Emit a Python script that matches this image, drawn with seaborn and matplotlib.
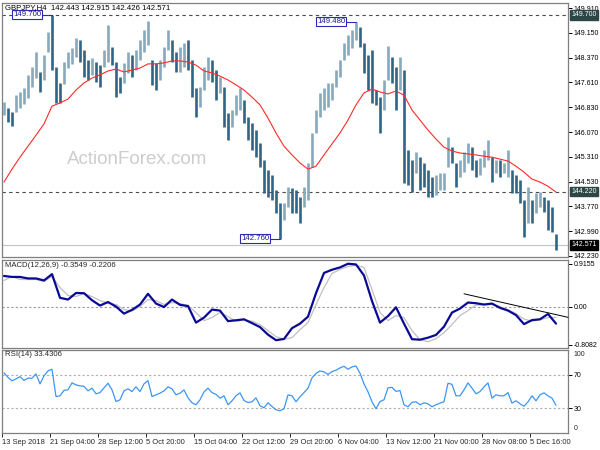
import numpy as np
import matplotlib
matplotlib.use("Agg")
import matplotlib.pyplot as plt
import seaborn as sns

sns.set_style("white")
plt.rcParams['font.family'] = ['Liberation Sans', 'DejaVu Sans']

# ---------------- data ----------------
symbol_text = "GBPJPY,H4  142.443 142.915 142.426 142.571"

bar_high = [147.00, 146.81, 146.69, 147.22, 147.31, 147.43, 147.84, 148.08, 148.55, 147.93,
            148.46, 149.17, 149.70, 148.08, 147.59, 148.24, 148.55, 148.67, 148.98, 148.92,
            148.61, 148.30, 148.36, 148.24, 148.15, 148.61, 149.39, 148.70, 148.24, 147.77,
            148.21, 148.55, 148.46, 148.61, 148.92, 149.23, 149.51, 148.30, 148.21, 148.30,
            148.70, 149.23, 148.92, 148.55, 148.70, 148.83, 148.92, 148.30, 147.43, 147.46,
            148.08, 148.39, 148.30, 147.99, 147.77, 147.46, 146.66, 146.75, 147.22, 147.43,
            147.06, 146.53, 146.35, 146.13, 145.73, 145.20, 144.89, 144.74, 144.27, 143.87,
            143.87, 144.36, 144.33, 144.27, 144.05, 144.36, 145.11, 146.04, 146.75, 147.28,
            147.43, 147.59, 147.59, 147.99, 148.30, 148.83, 149.08, 149.23, 149.48, 149.32,
            148.83, 148.46, 148.61, 147.37, 147.15, 147.68, 148.73, 148.39, 148.08, 148.39,
            147.99, 145.51, 145.20, 145.45, 145.29, 145.11, 144.89, 144.67, 144.74, 144.80,
            144.80, 145.91, 145.60, 145.11, 145.20, 145.45, 145.73, 145.60, 145.20, 145.26,
            145.51, 145.82, 145.29, 145.20, 145.20, 145.11, 145.51, 144.89, 144.74, 144.58,
            143.96, 144.36, 143.96, 144.18, 144.21, 144.05, 143.96, 143.74, 142.915]
bar_low = [146.60, 146.38, 146.25, 146.69, 146.81, 146.94, 147.12, 147.46, 147.74, 147.31,
           147.68, 148.55, 147.99, 146.97, 146.97, 147.56, 148.05, 148.18, 148.39, 148.24,
           147.77, 147.68, 147.84, 147.62, 147.46, 148.08, 148.24, 148.15, 147.15, 147.28,
           147.59, 147.90, 147.77, 147.99, 148.30, 148.55, 148.77, 147.53, 147.37, 147.68,
           148.08, 148.61, 148.24, 147.93, 147.93, 148.08, 147.99, 147.15, 146.53, 146.84,
           147.37, 147.68, 147.62, 147.06, 147.28, 146.22, 145.82, 146.22, 146.60, 146.75,
           146.35, 145.82, 145.51, 145.29, 144.98, 144.18, 144.05, 143.96, 143.56, 142.76,
           143.34, 143.74, 143.56, 143.56, 143.25, 143.74, 143.96, 144.98, 146.04, 146.53,
           146.75, 146.84, 147.06, 147.46, 147.77, 148.30, 148.46, 148.67, 148.92, 148.70,
           147.90, 147.37, 146.97, 146.91, 146.04, 146.75, 147.68, 147.59, 146.75, 147.37,
           144.49, 144.43, 144.21, 144.80, 144.27, 144.36, 144.05, 144.05, 144.12, 144.27,
           144.27, 144.98, 145.11, 144.36, 144.67, 144.83, 145.11, 144.89, 144.67, 144.74,
           144.98, 145.20, 144.52, 144.80, 144.67, 144.80, 144.67, 144.18, 144.18, 143.87,
           142.81, 143.25, 143.25, 143.56, 143.74, 143.59, 143.03, 142.97, 142.426]

# moving average, one reading every second bar
ma_val = [144.52, 144.92, 145.29, 145.63, 145.97, 146.32, 146.87, 146.97, 147.09, 147.37,
          147.59, 147.74, 147.84, 147.96, 148.02, 147.93, 147.99, 148.05, 148.18, 148.18,
          148.21, 148.27, 148.27, 148.24, 148.14, 147.96, 147.90, 147.80, 147.68, 147.53,
          147.37, 147.15, 146.91, 146.50, 146.04, 145.63, 145.36, 145.11, 144.92, 145.01,
          145.36, 145.70, 146.04, 146.44, 146.91, 147.28, 147.40, 147.31, 147.25, 147.34,
          147.21, 146.75, 146.44, 146.13, 145.85, 145.60, 145.48, 145.42, 145.39, 145.36,
          145.32, 145.29, 145.23, 145.17, 145.01, 144.83, 144.61, 144.52, 144.39, 144.21]

# MACD main and signal, one reading every second bar
macd_val = [0.656, 0.635, 0.635, 0.603, 0.603, 0.560, 0.694, 0.192, 0.155, 0.294,
            0.290, 0.141, 0.028, 0.102, 0.006, -0.143, -0.064, 0.049, 0.277, 0.070,
            -0.004, 0.155, 0.043, 0.017, -0.334, -0.228, -0.058, -0.079, -0.302, -0.285,
            -0.264, -0.345, -0.430, -0.590, -0.707, -0.682, -0.452, -0.356, -0.207, 0.290,
            0.720, 0.788, 0.837, 0.915, 0.900, 0.667, 0.124, -0.334, -0.196, -0.009,
            -0.356, -0.686, -0.697, -0.654, -0.596, -0.420, -0.121, -0.036, 0.092, 0.077,
            0.049, 0.070, -0.021, -0.079, -0.175, -0.366, -0.281, -0.264, -0.151, -0.3549]
signal_val = [0.560, 0.645, 0.581, 0.581, 0.581, 0.539, 0.645, 0.411, 0.241, 0.219,
              0.283, 0.219, 0.134, 0.081, 0.049, -0.058, -0.089, 0.006, 0.155, 0.134,
              0.049, 0.092, 0.070, 0.028, -0.121, -0.292, -0.228, -0.121, -0.207, -0.302,
              -0.281, -0.302, -0.377, -0.505, -0.633, -0.686, -0.654, -0.484, -0.334, 0.049,
              0.411, 0.709, 0.794, 0.858, 0.880, 0.837, 0.368, -0.121, -0.292, -0.185,
              -0.228, -0.505, -0.697, -0.739, -0.675, -0.547, -0.377, -0.185, -0.079, 0.038,
              0.049, 0.049, 0.006, -0.058, -0.143, -0.260, -0.302, -0.271, -0.228, -0.2206]
macd_trend_idx = [115, 141]
macd_trend_val = [0.277, -0.222]

rsi_val = [72.4, 67.0, 62.8, 65.2, 67.9, 63.4, 66.0, 66.0, 71.2, 59.2,
           68.8, 74.8, 76.8, 43.9, 44.8, 51.4, 52.0, 60.4, 58.0, 56.8,
           56.2, 50.8, 54.0, 47.2, 48.7, 54.4, 60.0, 52.0, 37.9, 40.0,
           50.8, 53.2, 49.9, 55.6, 49.9, 59.2, 63.1, 43.9, 46.0, 48.0,
           50.8, 55.6, 53.2, 46.0, 48.0, 52.0, 42.4, 36.4, 34.0, 40.0,
           49.6, 54.0, 48.7, 46.6, 42.0, 44.8, 34.0, 38.8, 44.8, 48.4,
           39.1, 36.7, 37.6, 42.4, 32.8, 30.4, 36.4, 31.9, 28.0, 26.8,
           29.2, 46.0, 44.8, 37.6, 43.6, 48.7, 54.0, 66.4, 71.8, 74.8,
           73.6, 70.6, 74.0, 75.6, 78.4, 80.4, 76.8, 79.6, 80.8, 72.0,
           59.2, 49.6, 37.6, 29.2, 37.9, 40.0, 54.4, 55.0, 50.2, 51.1,
           34.0, 31.6, 37.0, 37.6, 34.0, 36.4, 35.2, 31.6, 34.0, 36.0,
           37.6, 60.0, 58.6, 44.8, 44.8, 52.0, 60.4, 54.0, 47.2, 49.9,
           55.6, 60.4, 42.0, 46.0, 44.8, 44.8, 48.7, 36.0, 38.8, 35.2,
           32.2, 37.6, 44.8, 38.8, 46.0, 48.4, 44.8, 42.0, 33.4306]

price_ticks = [149.910, 149.150, 148.370, 147.610, 146.830, 146.070,
               145.310, 144.530, 143.770, 142.990, 142.230]
level_high = 149.700
level_mid = 144.220
last_close = 142.571
peak_labels = [("149.700", 149.700, 12), ("149.480", 149.480, 88), ("142.760", 142.760, 69)]
macd_ticks = [0.9155, 0.0, -0.8082]
macd_tick_labels = ["0.9155", "0.00", "-0.8082"]
x_tick_labels = ["13 Sep 2018", "21 Sep 04:00", "28 Sep 12:00", "5 Oct 20:00",
                 "15 Oct 04:00", "22 Oct 12:00", "29 Oct 20:00", "6 Nov 04:00",
                 "13 Nov 12:00", "21 Nov 00:00", "28 Nov 08:00", "5 Dec 16:00"]

# ---------------- figure ----------------
FS = 5.0
FS_T = 5.6
fig = plt.figure(figsize=(6, 4.5), dpi=100)
L, W = 2 / 600, 566 / 600
ax1 = fig.add_axes([L, 1 - 257 / 450, W, 254 / 450])
ax2 = fig.add_axes([L, 1 - 348 / 450, W, 88.5 / 450])
ax3 = fig.add_axes([L, 1 - 433 / 450, W, 83 / 450])

XMIN, XMAX = -0.5, 141
for ax in (ax1, ax2, ax3):
    ax.set_facecolor("white")
    for sp in ax.spines.values():
        sp.set_color("#7f7f7f")
        sp.set_linewidth(0.9)
    ax.set_xlim(XMIN, XMAX)
    ax.yaxis.tick_right()
    ax.tick_params(axis="y", which="both", right=True, left=False, labelright=True,
                   labelleft=False, direction="out", length=3, width=0.7,
                   labelsize=FS, pad=1.0, colors="black")
    ax.tick_params(axis="x", bottom=False, labelbottom=False)
    ax.set_xlabel("")
    ax.set_ylabel("")

# ---- price panel ----
high = np.array(bar_high)
low = np.array(bar_low)
idx = np.arange(len(high))
mid = (high + low) / 2
up = np.r_[True, mid[1:] >= mid[:-1]]
ax1.vlines(idx[up], low[up], high[up], color="#88a8bc", lw=1.9, zorder=3)
ax1.vlines(idx[~up], low[~up], high[~up], color="#2f6587", lw=1.9, zorder=3)

ma_idx = np.arange(0, len(high), 2)
sns.lineplot(x=ma_idx, y=ma_val, ax=ax1, color="#ff2a2a", linewidth=0.8,
             estimator=None, legend=False, zorder=4)

ax1.axhline(level_high, color="#4a4a4a", lw=0.8, ls=(0, (3, 3)), zorder=2)
ax1.axhline(level_mid, color="#4a4a4a", lw=0.8, ls=(0, (3, 3)), zorder=2)
ax1.axhline(last_close, color="#c8c8c8", lw=0.9, zorder=1)

ax1.set_ylim(142.199, 150.065)
ax1.set_yticks(price_ticks)
ax1.set_yticklabels([f"{v:.3f}" for v in price_ticks])

ytr = ax1.get_yaxis_transform()
for txt, val, fc in [(f"{level_high:.3f}", level_high, "#2c4646"),
                     (f"{level_mid:.3f}", level_mid, "#2c4646"),
                     (f"{last_close:.3f}", last_close, "#000000")]:
    ax1.text(1.0055, val, txt, transform=ytr, ha="left", va="center", fontsize=FS,
             color="white", bbox=dict(boxstyle="square,pad=0.18", fc=fc, ec=fc),
             clip_on=False, zorder=10)

for txt, val, bi in peak_labels:
    cx = bi - 6.2
    ax1.plot([cx + 3.6, bi], [val, val], color="#2b2bb0", lw=0.8, zorder=5)
    ax1.text(cx, val, txt, ha="center", va="center", fontsize=FS_T, color="#1a1a9a",
             bbox=dict(boxstyle="square,pad=0.12", fc="white", ec="#2b2bb0", lw=0.8),
             zorder=6)

ax1.text(0.006, 0.982, symbol_text, transform=ax1.transAxes, ha="left", va="center",
         fontsize=FS_T, color="black", zorder=8)
ax1.text(0.2385, 0.382, "ActionForex.com", transform=ax1.transAxes, ha="center",
         va="center", fontsize=13.5, color="#cdcdcd", zorder=0)

# ---- MACD panel ----
m_idx = np.arange(0, len(high), 2)
ax2.axhline(0, color="#9a9a9a", lw=0.8, ls=(0, (2, 2)), zorder=1)
sns.lineplot(x=m_idx, y=signal_val, ax=ax2, color="#c0c0c0", linewidth=0.9,
             estimator=None, legend=False, zorder=2)
sns.lineplot(x=m_idx, y=macd_val, ax=ax2, color="#0a0a96", linewidth=1.6,
             estimator=None, legend=False, zorder=3)
ax2.plot(macd_trend_idx, macd_trend_val, color="#000000", lw=0.7, zorder=4, clip_on=False)
ax2.set_ylim(-0.873, 1.005)
ax2.set_yticks(macd_ticks)
ax2.set_yticklabels(macd_tick_labels)
ax2.text(0.005, 0.935, f"MACD(12,26,9) {macd_val[-1]:.4f} {signal_val[-1]:.4f}",
         transform=ax2.transAxes, ha="left", va="center", fontsize=FS_T)

# ---- RSI panel ----
ax3.axhline(70, color="#b0b0b0", lw=0.8, ls=(0, (2, 2)), zorder=1)
ax3.axhline(30, color="#b0b0b0", lw=0.8, ls=(0, (2, 2)), zorder=1)
sns.lineplot(x=idx, y=rsi_val, ax=ax3, color="#3d96f5", linewidth=0.9,
             estimator=None, legend=False, zorder=2)
ax3.set_ylim(0, 100)
ax3.set_yticks([70, 30])
ax3.set_yticklabels(["70", "30"])
ytr3 = ax3.get_yaxis_transform()
ax3.text(1.0095, 95, "100", transform=ytr3, ha="left", va="center", fontsize=FS, clip_on=False)
ax3.text(1.0095, 5, "0", transform=ytr3, ha="left", va="center", fontsize=FS, clip_on=False)
ax3.text(0.005, 0.94, f"RSI(14) {rsi_val[-1]:.4f}", transform=ax3.transAxes,
         ha="left", va="center", fontsize=FS_T)

tick_pos = [-0.5 + 12 * k for k in range(len(x_tick_labels))]
ax3.set_xticks(tick_pos)
ax3.set_xticklabels(x_tick_labels, ha="left")
ax3.tick_params(axis="x", bottom=True, labelbottom=True, direction="out", length=3,
                width=0.7, labelsize=FS + 0.4, pad=1.5)

fig.savefig("out.png", dpi=100)
